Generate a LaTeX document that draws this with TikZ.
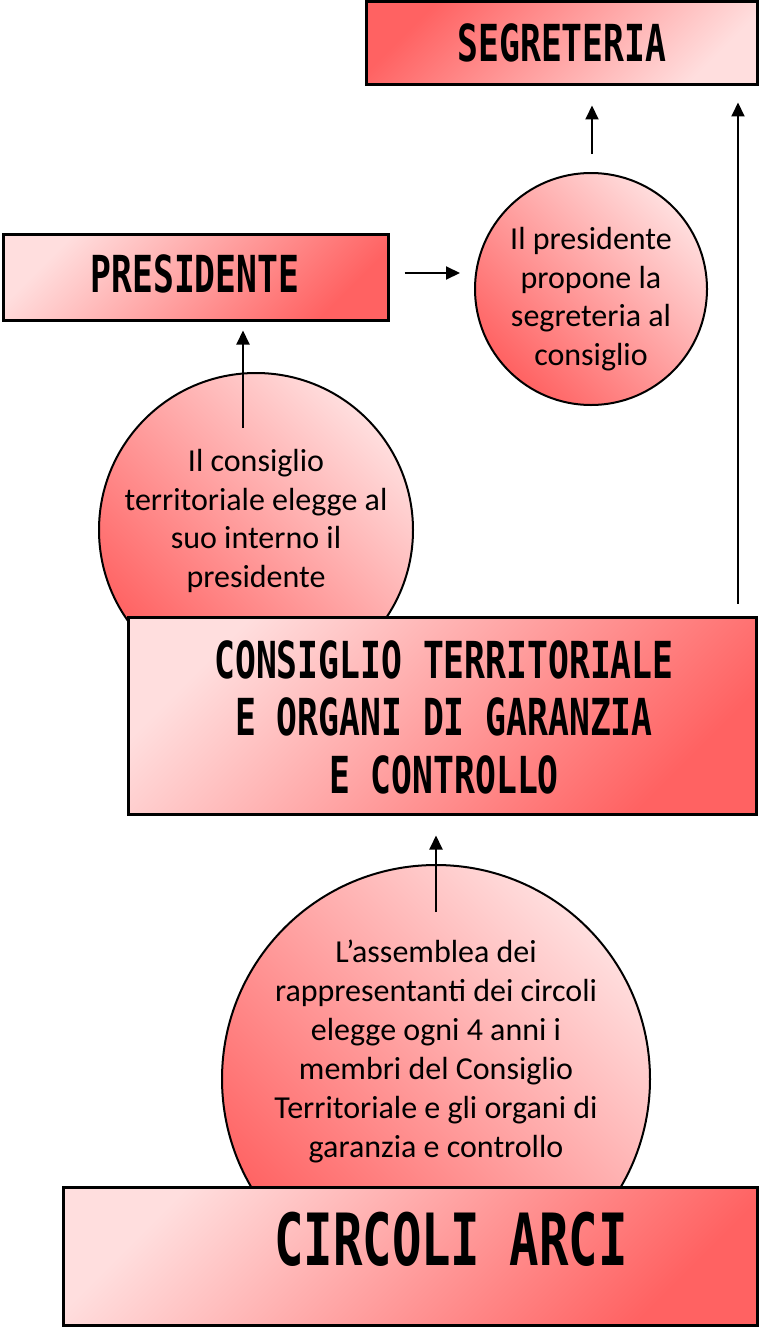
\documentclass[tikz,border=0pt]{standalone}
\usepackage{fontspec}
\setmainfont{Carlito}
\newfontfamily\stampfont[FakeStretch=0.68]{DejaVu Sans Mono}
\usetikzlibrary{arrows.meta}
\definecolor{darkred}{HTML}{FF6262}
\definecolor{lightred}{HTML}{FFDEDE}
\begin{document}
\begin{tikzpicture}[x=1pt,y=1pt,
  boxlight/.style={draw=black, line width=3pt, rectangle, inner sep=0pt,
    top color=lightred, bottom color=darkred, shading angle=45},
  boxdark/.style={draw=black, line width=3pt, rectangle, inner sep=0pt,
    top color=darkred, bottom color=lightred, shading angle=45},
  ball/.style={draw=black, line width=2pt, circle, inner sep=0pt,
    top color=lightred, bottom color=darkred, shading angle=-45},
  stamp/.style={font=\stampfont\bfseries\fontsize{#1}{80}\selectfont, inner sep=0pt},
  stamplines/.style={font=\stampfont\bfseries\fontsize{51}{57.5}\selectfont, align=center, inner sep=0pt},
  body/.style={font=\fontsize{32}{38.5}\selectfont, align=center, inner sep=0pt},
  bigbody/.style={font=\fontsize{32}{39}\selectfont, align=center, inner sep=0pt},
  arr/.style={-{Triangle[length=14pt,width=13pt]}, line width=2pt}
]
\useasboundingbox (0,0) rectangle (758,-1327);

% circles (behind boxes)
\node[ball, minimum size=232pt] (pc) at (591,-289) {};
\node[ball, minimum size=314pt] (c1) at (256,-530) {};
\node[ball, minimum size=428pt] (c2) at (436,-1079) {};

% boxes
\node[boxdark, minimum width=391pt, minimum height=83pt] (seg) at (561.5,-43.5) {};
\node[boxlight, minimum width=385pt, minimum height=86pt] (pres) at (195.5,-277) {};
\node[boxlight, minimum width=628pt, minimum height=197pt] (cons) at (442,-715.5) {};
\node[boxlight, minimum width=694pt, minimum height=138pt] (circ) at (410,-1256) {};

% box texts
\node[stamp=51] (segT) at (562,-43) {SEGRETERIA};
\node[stamp=51] (presT) at (195,-274) {PRESIDENTE};
\node[stamplines] (consT) at (444,-717) {CONSIGLIO TERRITORIALE\\E ORGANI DI GARANZIA\\E CONTROLLO};
\node[stamp=72] (circT) at (451,-1239) {CIRCOLI ARCI};

% circle texts
\node[body] (pcT) at (591,-299) {Il presidente\\propone la\\segreteria al\\consiglio};
\node[body] (c1T) at (256,-521) {Il consiglio\\territoriale elegge al\\suo interno il\\presidente};
\node[bigbody] (c2T) at (436,-1051) {L’assemblea dei\\rappresentanti dei circoli\\elegge ogni 4 anni i\\membri del Consiglio\\Territoriale e gli organi di\\garanzia e controllo};

% connectors
\coordinate (a1) at (243,-428);
\draw[arr, shorten >=9pt] (a1) -- (a1 |- pres.south);
\coordinate (a2) at (0,-273);
\draw[arr, shorten <=15pt, shorten >=14pt] (pres.east |- a2) -- (pc.west |- a2);
\coordinate (a3) at (592,0);
\draw[arr, shorten <=18pt, shorten >=19pt] (a3 |- pc.north) -- (a3 |- seg.south);
\coordinate (a4) at (738,0);
\draw[arr, shorten <=12pt, shorten >=16pt] (a4 |- cons.north) -- (a4 |- seg.south);
\coordinate (a5) at (436,-912);
\draw[arr, shorten >=20pt] (a5) -- (a5 |- cons.south);
\end{tikzpicture}
\end{document}
